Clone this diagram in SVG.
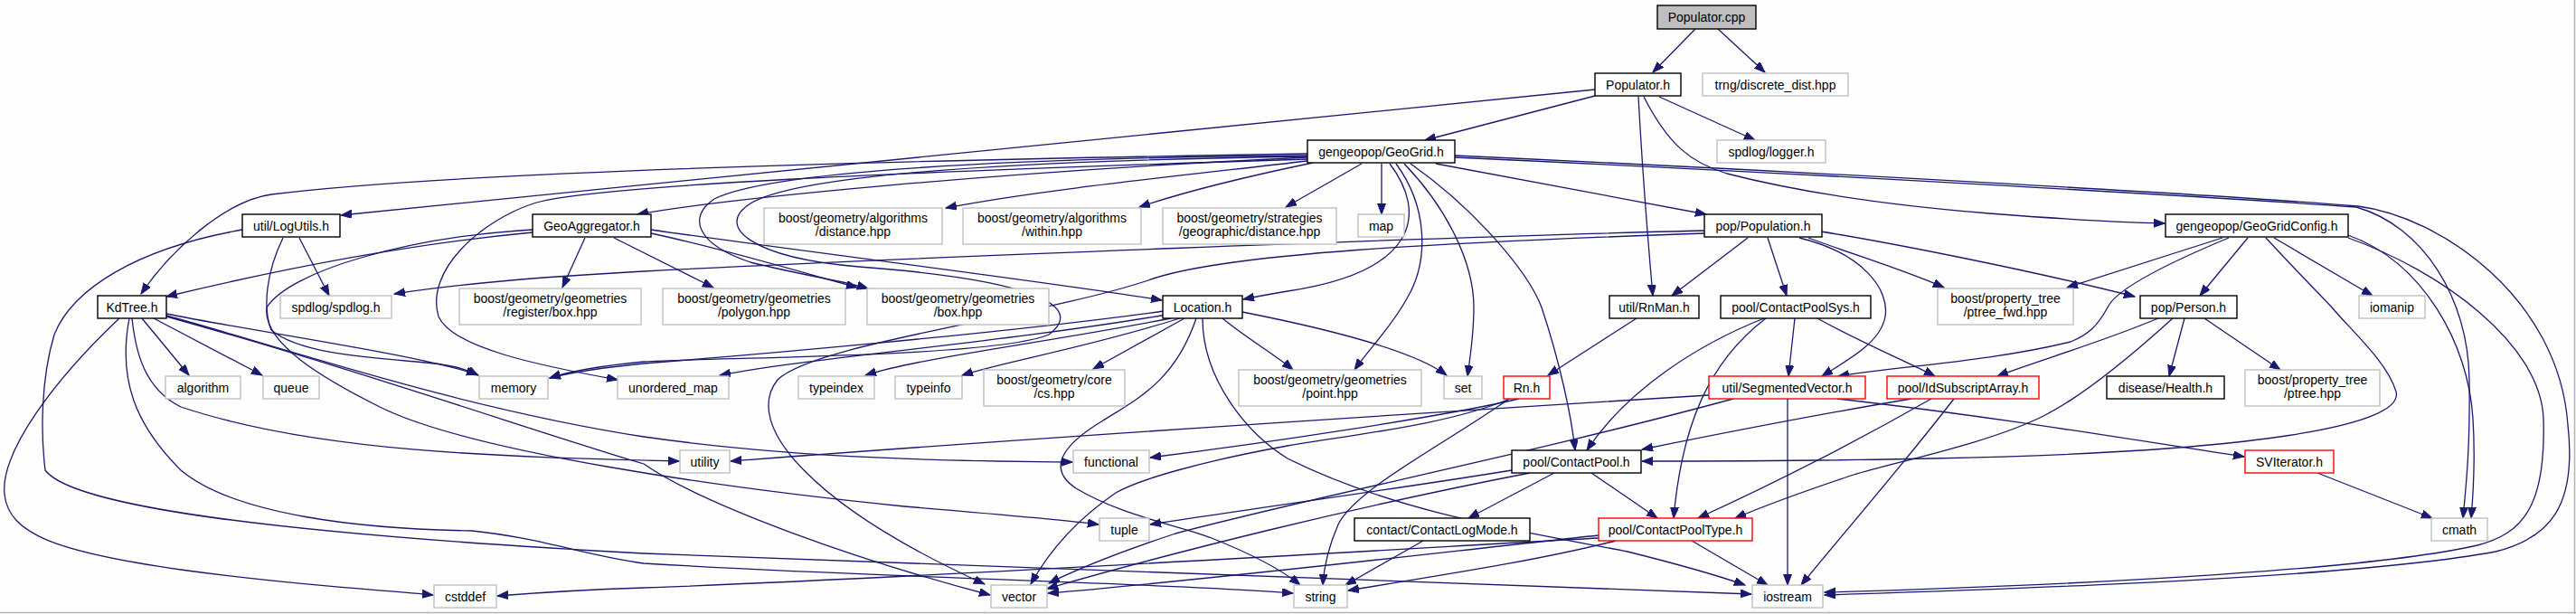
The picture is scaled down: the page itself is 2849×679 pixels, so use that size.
<svg xmlns="http://www.w3.org/2000/svg" width="2849" height="679" viewBox="0 0 2849 679">
<style>
.nd rect{fill:#ffffff;stroke:#000000;stroke-width:1.4}
.ex rect{fill:#ffffff;stroke:#bfbfbf;stroke-width:1.4}
.tr rect{fill:#ffffff;stroke:#ff0000;stroke-width:1.4}
.root rect{fill:#bfbfbf;stroke:#000000;stroke-width:1.4}
text{font-family:"Liberation Sans",Arial,Helvetica,sans-serif;font-size:14px;text-anchor:middle;fill:#000000}
#edges path{fill:none;stroke:#191970;stroke-width:1.3;marker-end:url(#arr)}
</style>
<defs>
<marker id="arr" markerUnits="userSpaceOnUse" markerWidth="13" markerHeight="10" refX="12" refY="4.5" orient="auto">
<path d="M0,0 L12,4.5 L0,9 Z" fill="#191970" stroke="#191970" stroke-width="1"/>
</marker>
</defs>
<rect x="0" y="0" width="2849" height="679" fill="#fdfefd"/>
<line x1="0" y1="677.5" x2="2849" y2="677.5" stroke="#b4b4b4" stroke-width="1.5"/>
<line x1="2847.5" y1="0" x2="2847.5" y2="679" stroke="#b4b4b4" stroke-width="1.5"/>

<g id="edges">
<path d="M1875,32 L1828,80"/>
<path d="M1900,32 L1952,80"/>
<path d="M1764,106 L1576,155"/>
<path d="M1835,107 L1941,155"/>
<path d="M1812,107 C1816,180 1822,260 1828,327"/>
<path d="M1818,107 C1845,160 1870,180 1910,192 C2000,215 2100,228 2200,236 C2290,243 2350,246 2394,247"/>
<path d="M1764,99 L377,238"/>
<path d="M1446,170 C1000,177 500,190 300,215 C250,222 190,275 156,325"/>
<path d="M1446,174 C1100,190 800,220 705,237"/>
<path d="M1446,176 C1000,190 650,205 590,225 C530,245 470,300 485,350 C500,385 600,405 683,420"/>
<path d="M1446,178 C1300,195 1150,210 1046,230"/>
<path d="M1452,180 C1380,195 1310,212 1260,229"/>
<path d="M1506,181 L1422,229"/>
<path d="M1528,181 L1528,237"/>
<path d="M1544,181 C1580,230 1580,290 1556,330 C1540,360 1515,385 1498,409"/>
<path d="M1553,181 C1600,230 1630,290 1630,340 C1630,370 1626,395 1623,416"/>
<path d="M1560,181 C1630,230 1690,300 1705,340 C1725,400 1738,460 1742,498"/>
<path d="M1588,181 L1887,237"/>
<path d="M1537,181 C1578,235 1570,300 1424,322 C1405,325 1390,328 1375,331"/>
<path d="M1446,172 C1100,175 850,190 790,220 C760,240 770,270 830,290 C890,305 930,310 960,319"/>
<path d="M1446,173 C1100,178 880,195 830,225 C790,250 830,285 950,295 C1150,310 1200,340 1160,370 C1100,395 800,395 712,400 C670,404 632,410 608,418"/>
<path d="M1609,172 C2000,190 2450,215 2608,228 C2700,240 2830,330 2840,470 C2850,560 2820,595 2760,610 C2600,640 2200,652 2018,658"/>
<path d="M1609,174 C2000,192 2450,218 2606,229 C2680,250 2730,330 2731,420 C2732,500 2727,540 2724,573"/>
<path d="M2597,260 C2680,290 2730,380 2735,463 C2738,510 2735,550 2733,573"/>
<path d="M2597,263 C2700,300 2810,380 2813,463 C2816,560 2790,590 2740,603 C2600,635 2200,650 2018,655"/>
<path d="M2458,263 L2286,318"/>
<path d="M2486,263 L2433,327"/>
<path d="M2515,263 L2624,327"/>
<path d="M2465,263 C2400,290 2340,320 2331,340 C2320,360 2310,370 2290,378 C2200,400 2100,405 2033,416"/>
<path d="M2506,263 C2540,300 2570,330 2579,340 C2600,365 2640,400 2650,433 C2660,470 2500,500 2136,507 C2000,510 1900,510 1816,510"/>
<path d="M1933,263 L1849,327"/>
<path d="M1955,263 L1976,327"/>
<path d="M1990,263 C2060,280 2090,320 2085,350 C2080,380 2040,400 2015,416"/>
<path d="M2000,263 C2060,285 2110,300 2150,318"/>
<path d="M2014,256 C2100,270 2250,300 2361,328"/>
<path d="M1885,255 C1600,262 1000,285 712,300 C600,306 500,315 436,325"/>
<path d="M1885,258 C1600,268 1350,280 1270,310 C1150,350 900,380 860,420 C820,470 900,560 1089,646"/>
<path d="M1287,344 C1100,370 800,395 712,402 C670,406 635,411 608,418"/>
<path d="M1290,348 C1100,380 900,395 796,415"/>
<path d="M1295,352 C1150,380 1020,395 957,415"/>
<path d="M1305,352 C1200,385 1110,400 1064,415"/>
<path d="M1310,352 L1209,408"/>
<path d="M1352,352 C1380,375 1410,392 1430,409"/>
<path d="M1374,345 C1450,360 1560,385 1600,415"/>
<path d="M1323,352 C1300,420 1260,440 1220,465 C1170,495 1160,520 1190,540 C1240,570 1300,580 1340,595 C1390,615 1420,632 1438,647"/>
<path d="M1330,352 C1330,420 1380,480 1424,507 C1550,570 1700,590 1800,610 C1880,630 1910,640 1930,647"/>
<path d="M331,263 L364,327"/>
<path d="M313,263 C295,300 290,340 300,365 C330,390 400,395 460,400 C500,403 515,408 529,415"/>
<path d="M268,254 C150,275 80,320 60,370 C45,420 45,480 50,520 C80,560 300,590 712,612 C1200,630 1700,645 1937,657"/>
<path d="M589,257 C450,270 300,300 184,328"/>
<path d="M647,263 L622,318"/>
<path d="M679,263 L789,318"/>
<path d="M720,258 C800,275 900,305 948,318"/>
<path d="M720,254 C900,280 1150,310 1285,332"/>
<path d="M589,254 C450,262 320,300 295,340 C290,380 360,420 420,450 C520,500 800,540 1000,560 C1120,570 1180,575 1215,580"/>
<path d="M157,352 L209,415"/>
<path d="M170,352 L290,415"/>
<path d="M184,347 C300,370 450,390 528,414"/>
<path d="M184,349 C300,380 500,450 712,483 C900,510 1100,510 1186,511"/>
<path d="M146,352 C150,390 160,430 200,450 C350,500 550,505 751,510"/>
<path d="M184,350 C400,410 600,480 712,513 C780,560 950,620 1095,658"/>
<path d="M132,352 C60,420 0,500 5,547 C10,590 60,610 200,630 C330,648 420,652 479,658"/>
<path d="M143,352 C130,420 150,470 200,520 C260,570 400,585 522,587 C600,595 650,615 712,623 C1000,640 1300,645 1430,656"/>
<path d="M1810,352 L1712,415"/>
<path d="M1680,441 C1600,460 1400,490 1272,506"/>
<path d="M1670,441 C1600,470 1500,480 1424,493 C1330,510 1260,530 1234,545 C1190,575 1160,610 1140,646"/>
<path d="M1669,441 C1600,490 1500,540 1480,580 C1467,610 1464,630 1463,647"/>
<path d="M1890,437 C1600,455 1200,480 808,510"/>
<path d="M1977,441 L1977,647"/>
<path d="M2032,441 C2200,460 2350,485 2482,505"/>
<path d="M1917,441 C1700,500 1450,550 1300,590 C1240,610 1190,630 1160,645"/>
<path d="M2114,441 C2000,460 1900,480 1816,497"/>
<path d="M2136,441 C2050,490 1950,540 1878,573"/>
<path d="M2403,352 C2350,400 2300,440 2260,460 C2200,490 2100,510 2050,525 C1990,545 1950,560 1919,573"/>
<path d="M2161,441 C2100,520 2030,600 1992,647"/>
<path d="M1719,523 L1624,573"/>
<path d="M1760,523 L1833,573"/>
<path d="M1672,520 C1550,540 1400,560 1272,580"/>
<path d="M1692,523 C1500,560 1300,610 1158,651"/>
<path d="M1574,598 L1488,647"/>
<path d="M1787,598 C1700,620 1600,635 1491,653"/>
<path d="M1871,598 L1955,647"/>
<path d="M1768,592 C1600,610 1350,640 1159,656"/>
<path d="M1768,595 C1500,610 1000,640 712,650 C650,652 600,655 550,659"/>
<path d="M1985,352 L1978,416"/>
<path d="M2010,352 C2060,380 2110,400 2140,416"/>
<path d="M1951,352 C1880,380 1800,430 1755,498"/>
<path d="M1953,352 C1890,400 1860,470 1851,573"/>
<path d="M2416,352 L2399,416"/>
<path d="M2438,352 L2522,409"/>
<path d="M2387,352 C2320,380 2250,400 2209,416"/>
<path d="M2563,523 L2690,573"/>
</g>

<g id="n-populator-cpp" class="root"><rect x="1833" y="6" width="109" height="26"/><text x="1887.5" y="24">Populator.cpp</text></g>
<g id="n-populator-h" class="nd"><rect x="1764" y="81" width="95" height="25"/><text x="1811.5" y="98.5">Populator.h</text></g>
<g id="n-trng" class="ex"><rect x="1883" y="81" width="161" height="25"/><text x="1963.5" y="98.5">trng/discrete_dist.hpp</text></g>
<g id="n-geogrid" class="nd"><rect x="1446" y="155" width="163" height="25"/><text x="1527.5" y="172.5">gengeopop/GeoGrid.h</text></g>
<g id="n-logger" class="ex"><rect x="1899" y="155" width="120" height="25"/><text x="1959" y="172.5">spdlog/logger.h</text></g>
<g id="n-logutils" class="nd"><rect x="268" y="237" width="108" height="25"/><text x="322" y="254.5">util/LogUtils.h</text></g>
<g id="n-geoagg" class="nd"><rect x="589" y="237" width="131" height="25"/><text x="654.5" y="254.5">GeoAggregator.h</text></g>
<g id="n-alg-distance" class="ex"><rect x="845" y="230" width="197" height="40"/><text x="943.5" y="246">boost/geometry/algorithms</text><text x="943.5" y="261">/distance.hpp</text></g>
<g id="n-alg-within" class="ex"><rect x="1065" y="230" width="197" height="40"/><text x="1163.5" y="246">boost/geometry/algorithms</text><text x="1163.5" y="261">/within.hpp</text></g>
<g id="n-strategies" class="ex"><rect x="1286" y="230" width="192" height="40"/><text x="1382" y="246">boost/geometry/strategies</text><text x="1382" y="261">/geographic/distance.hpp</text></g>
<g id="n-map" class="ex"><rect x="1502" y="237" width="51" height="25"/><text x="1527.5" y="254.5">map</text></g>
<g id="n-population" class="nd"><rect x="1885" y="237" width="130" height="25"/><text x="1950" y="254.5">pop/Population.h</text></g>
<g id="n-geogridconfig" class="nd"><rect x="2395" y="237" width="202" height="25"/><text x="2496" y="254.5">gengeopop/GeoGridConfig.h</text></g>
<g id="n-kdtree" class="nd"><rect x="108" y="327" width="76" height="25"/><text x="146" y="344.5">KdTree.h</text></g>
<g id="n-spdlog" class="ex"><rect x="310" y="327" width="123" height="25"/><text x="371.5" y="344.5">spdlog/spdlog.h</text></g>
<g id="n-regbox" class="ex"><rect x="508" y="319" width="201" height="40"/><text x="608.5" y="335">boost/geometry/geometries</text><text x="608.5" y="350">/register/box.hpp</text></g>
<g id="n-polygon" class="ex"><rect x="733" y="319" width="202" height="40"/><text x="834" y="335">boost/geometry/geometries</text><text x="834" y="350">/polygon.hpp</text></g>
<g id="n-box" class="ex"><rect x="959" y="319" width="201" height="40"/><text x="1059.5" y="335">boost/geometry/geometries</text><text x="1059.5" y="350">/box.hpp</text></g>
<g id="n-location" class="nd"><rect x="1286" y="327" width="88" height="25"/><text x="1330" y="344.5">Location.h</text></g>
<g id="n-rnman" class="nd"><rect x="1780" y="327" width="99" height="25"/><text x="1829.5" y="344.5">util/RnMan.h</text></g>
<g id="n-contactpoolsys" class="nd"><rect x="1903" y="327" width="166" height="25"/><text x="1986" y="344.5">pool/ContactPoolSys.h</text></g>
<g id="n-ptree-fwd" class="ex"><rect x="2143" y="319" width="150" height="40"/><text x="2218" y="335">boost/property_tree</text><text x="2218" y="350">/ptree_fwd.hpp</text></g>
<g id="n-person" class="nd"><rect x="2367" y="327" width="107" height="25"/><text x="2420.5" y="344.5">pop/Person.h</text></g>
<g id="n-iomanip" class="ex"><rect x="2609" y="327" width="73" height="25"/><text x="2645.5" y="344.5">iomanip</text></g>
<g id="n-algorithm" class="ex"><rect x="183" y="416" width="83" height="25"/><text x="224.5" y="433.5">algorithm</text></g>
<g id="n-queue" class="ex"><rect x="291" y="416" width="62" height="25"/><text x="322" y="433.5">queue</text></g>
<g id="n-memory" class="ex"><rect x="530" y="416" width="76" height="25"/><text x="568" y="433.5">memory</text></g>
<g id="n-unordered-map" class="ex"><rect x="683" y="416" width="123" height="25"/><text x="744.5" y="433.5">unordered_map</text></g>
<g id="n-typeindex" class="ex"><rect x="883" y="416" width="84" height="25"/><text x="925" y="433.5">typeindex</text></g>
<g id="n-typeinfo" class="ex"><rect x="990" y="416" width="74" height="25"/><text x="1027" y="433.5">typeinfo</text></g>
<g id="n-cs" class="ex"><rect x="1088" y="409" width="156" height="40"/><text x="1166" y="425">boost/geometry/core</text><text x="1166" y="440">/cs.hpp</text></g>
<g id="n-point" class="ex"><rect x="1370" y="409" width="202" height="40"/><text x="1471" y="425">boost/geometry/geometries</text><text x="1471" y="440">/point.hpp</text></g>
<g id="n-set" class="ex"><rect x="1597" y="416" width="42" height="25"/><text x="1618" y="433.5">set</text></g>
<g id="n-rn" class="tr"><rect x="1663" y="416" width="51" height="25"/><text x="1688.5" y="433.5">Rn.h</text></g>
<g id="n-segmentedvector" class="tr"><rect x="1890" y="416" width="173" height="25"/><text x="1976.5" y="433.5">util/SegmentedVector.h</text></g>
<g id="n-idsubscriptarray" class="tr"><rect x="2087" y="416" width="168" height="25"/><text x="2171" y="433.5">pool/IdSubscriptArray.h</text></g>
<g id="n-health" class="nd"><rect x="2330" y="416" width="130" height="25"/><text x="2395" y="433.5">disease/Health.h</text></g>
<g id="n-ptree" class="ex"><rect x="2483" y="409" width="149" height="40"/><text x="2557.5" y="425">boost/property_tree</text><text x="2557.5" y="440">/ptree.hpp</text></g>
<g id="n-utility" class="ex"><rect x="752" y="498" width="55" height="25"/><text x="779.5" y="515.5">utility</text></g>
<g id="n-functional" class="ex"><rect x="1187" y="498" width="84" height="25"/><text x="1229" y="515.5">functional</text></g>
<g id="n-contactpool" class="nd"><rect x="1672" y="498" width="143" height="25"/><text x="1743.5" y="515.5">pool/ContactPool.h</text></g>
<g id="n-sviterator" class="tr"><rect x="2483" y="498" width="98" height="25"/><text x="2532" y="515.5">SVIterator.h</text></g>
<g id="n-tuple" class="ex"><rect x="1216" y="573" width="55" height="25"/><text x="1243.5" y="590.5">tuple</text></g>
<g id="n-contactlogmode" class="nd"><rect x="1498" y="573" width="194" height="25"/><text x="1595" y="590.5">contact/ContactLogMode.h</text></g>
<g id="n-contactpooltype" class="tr"><rect x="1768" y="573" width="170" height="25"/><text x="1853" y="590.5">pool/ContactPoolType.h</text></g>
<g id="n-cmath" class="ex"><rect x="2689" y="573" width="62" height="25"/><text x="2720" y="590.5">cmath</text></g>
<g id="n-cstddef" class="ex"><rect x="480" y="647" width="69" height="25"/><text x="514.5" y="664.5">cstddef</text></g>
<g id="n-vector" class="ex"><rect x="1096" y="647" width="62" height="25"/><text x="1127" y="664.5">vector</text></g>
<g id="n-string" class="ex"><rect x="1431" y="647" width="59" height="25"/><text x="1460.5" y="664.5">string</text></g>
<g id="n-iostream" class="ex"><rect x="1938" y="647" width="78" height="25"/><text x="1977" y="664.5">iostream</text></g>
</svg>
